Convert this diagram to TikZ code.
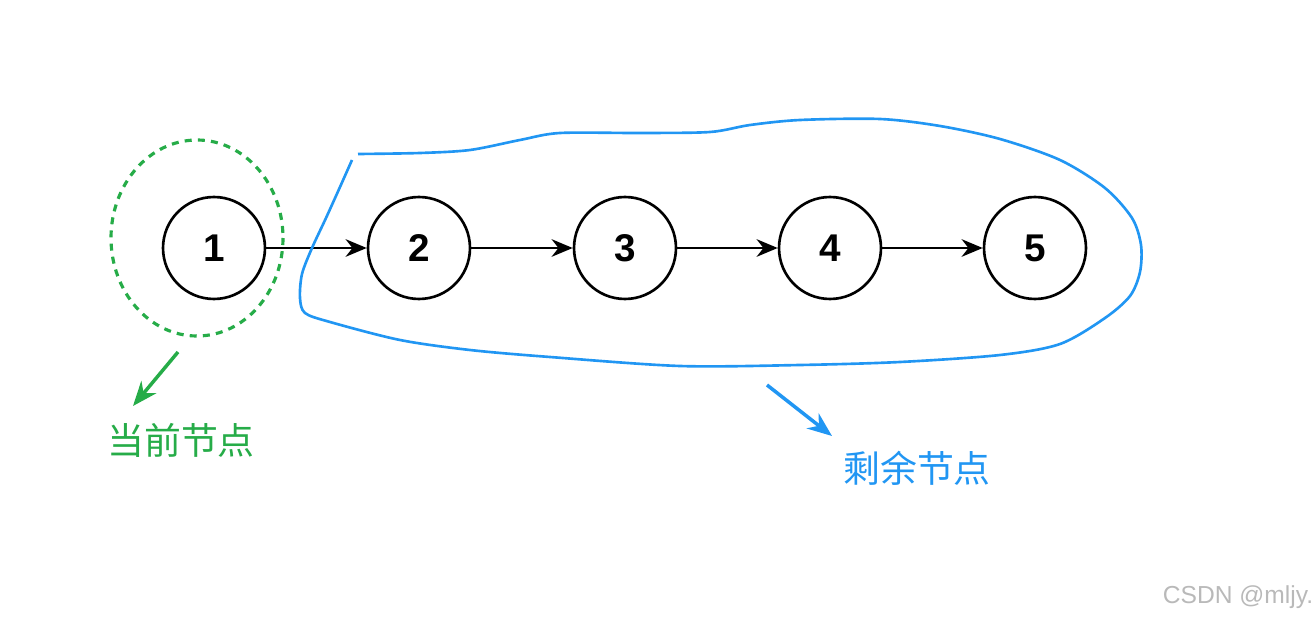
\documentclass[tikz,border=0pt]{standalone}
\usepackage{fontspec}
\setmainfont{Liberation Sans}
\newfontfamily\cjk{Noto Sans CJK SC}
\usetikzlibrary{arrows.meta}
\definecolor{curgreen}{RGB}{38,172,72}
\definecolor{restblue}{RGB}{33,150,243}
\begin{document}
\begin{tikzpicture}[x=0.02cm, y=-0.02cm,
    listnode/.style={draw, line width=1.5pt, circle, minimum size=2.04cm, inner sep=0pt, font=\bfseries\fontsize{22}{22}\selectfont},
    link/.style={line width=1.4pt, -{Stealth[length=12pt, width=10pt]}}]
    \useasboundingbox (0,0) rectangle (1315,618);
    \foreach \i/\x in {1/214, 2/419, 3/625, 4/830, 5/1035}
        \node[listnode] (n\i) at (\x,248) {\i};
    \foreach \a/\b in {1/2, 2/3, 3/4, 4/5}
        \draw[link] (n\a) -- (n\b);
    % current node
    \draw[curgreen, line width=1.8pt, dash pattern=on 4pt off 3.5pt] (197,238) ellipse (86 and 98);
    \coordinate (gtail) at (178,352);
    \node[curgreen, font=\cjk\fontsize{21}{21}\selectfont] (cur) at (181,440) {当前节点};
    \draw[curgreen, line width=2pt, -{Stealth[length=14pt, width=11pt]}] (gtail) -- (133,406);
    % remaining nodes
    \draw[restblue, line width=1.5pt] plot[smooth, tension=0.5] coordinates {
        (358,154) (420,153) (470,150) (520,140) (560,133) (640,133) (710,132)
        (750,125) (800,120) (880,119) (940,126) (1000,139) (1060,160) (1105,188)
        (1132,218) (1141,245) (1140,272) (1130,296) (1105,318) (1060,344)
        (1000,355) (900,362) (800,365) (680,366) (550,357) (470,350) (400,340)
        (330,322) (305,313) (300,298) (302,274) (312,248) (326,218) (340,187) (352,160)};
    \coordinate (btail) at (767,385);
    \node[restblue, font=\cjk\fontsize{21}{21}\selectfont] (rest) at (917,468) {剩余节点};
    \draw[restblue, line width=2pt, -{Stealth[length=14pt, width=11pt]}] (btail) -- (832,436);
    % watermark
    \node[gray!55, font=\fontsize{14}{14}\selectfont] (mark) at (1238,597) {CSDN @mljy.};
\end{tikzpicture}
\end{document}
